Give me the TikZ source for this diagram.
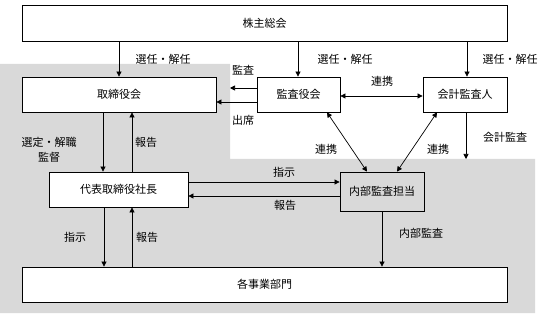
\documentclass[tikz,border=0pt]{standalone}
\usepackage{fontspec}
\setmainfont{Noto Sans CJK JP}
\usetikzlibrary{arrows.meta}
\definecolor{bggray}{RGB}{217,217,217}
\tikzset{
  box/.style={draw=black, line width=0.8pt, fill=white, minimum height=35pt, inner sep=0pt, font=\fontsize{11}{13}\selectfont},
  lbl/.style={inner sep=0pt, font=\fontsize{11}{13}\selectfont},
  arr/.style={line width=0.7pt, -{Triangle[length=5pt,width=5pt]}},
  darr/.style={line width=0.7pt, {Triangle[length=5pt,width=5pt]}-{Triangle[length=5pt,width=5pt]}},
}
\begin{document}
\begin{tikzpicture}[x=1pt,y=-1pt]
\useasboundingbox (0,0) rectangle (554,315);
\fill[bggray] (0,64) -- (230,64) -- (230,159) -- (535,159) -- (535,313) -- (0,313) -- cycle;
\coordinate (gtop) at (466,159);
\coordinate (gedge) at (230,88);

\node[box, minimum width=485pt, minimum height=36pt] (sh) at (264.5,23) {株主総会};
\node[box, minimum width=194pt] (bd) at (119,94.5) {取締役会};
\node[box, minimum width=83pt] (ac) at (298.5,94.5) {監査役会};
\node[box, minimum width=84pt] (ea) at (465,94.5) {会計監査人};
\node[box, minimum width=139pt] (ceo) at (118.5,189.5) {代表取締役社長};
\node[box, fill=bggray, minimum width=84pt, minimum height=39pt] (ia) at (382,191.5) {内部監査担当};
\node[box, minimum width=485pt] (bu) at (264.5,284.5) {各事業部門};

% labels
\node[lbl] (l1) at (163,59) {選任・解任};
\node[lbl] (l2) at (345,59) {選任・解任};
\node[lbl] (l3) at (510,59) {選任・解任};
\node[lbl] (l4) at (243,70) {監査};
\node[lbl] (l5) at (243,120) {出席};
\node[lbl] (l6) at (382,81) {連携};
\node[lbl] (l7) at (505,137) {会計監査};
\node[lbl] (l8) at (326,149) {連携};
\node[lbl] (l9) at (438,149) {連携};
\node[lbl] (l10) at (49,142) {選定・解職};
\node[lbl] (l11) at (49,157) {監督};
\node[lbl] (l12) at (146,142) {報告};
\node[lbl] (l13) at (284,172) {指示};
\node[lbl] (l14) at (285,205) {報告};
\node[lbl] (l15) at (75,237) {指示};
\node[lbl] (l16) at (147,237) {報告};
\node[lbl] (l17) at (421,233) {内部監査};

% connectors
\draw[arr] (sh.south -| 119,0) -- (bd.north -| 119,0);
\draw[arr] (sh.south -| 298,0) -- (ac.north -| 298,0);
\draw[arr] (sh.south -| 467,0) -- (ea.north -| 467,0);
\draw[arr] (ac.west |- 0,88) -- (gedge);
\draw[arr] (ac.west |- 0,102) -- (bd.east |- 0,102);
\draw[darr] (ac.east |- 0,96) -- (ea.west |- 0,96);
\draw[arr] (bd.south -| 103,0) -- (ceo.north -| 103,0);
\draw[arr] (ceo.north -| 132,0) -- (bd.south -| 132,0);
\draw[arr] (ceo.east |- 0,182) -- (ia.west |- 0,182);
\draw[arr] (ia.west |- 0,196) -- (ceo.east |- 0,196);
\draw[arr] (ceo.south -| 104,0) -- (bu.north -| 104,0);
\draw[arr] (bu.north -| 132,0) -- (ceo.south -| 132,0);
\draw[arr] (ia.south -| 382,0) -- (bu.north -| 382,0);
\draw[arr] (ea.south -| gtop) -- (gtop);
\draw[darr] (ac.south -| 327,0) -- (ia.north -| 367,0);
\draw[darr] (ea.south -| 437,0) -- (ia.north -| 397,0);
\end{tikzpicture}
\end{document}
